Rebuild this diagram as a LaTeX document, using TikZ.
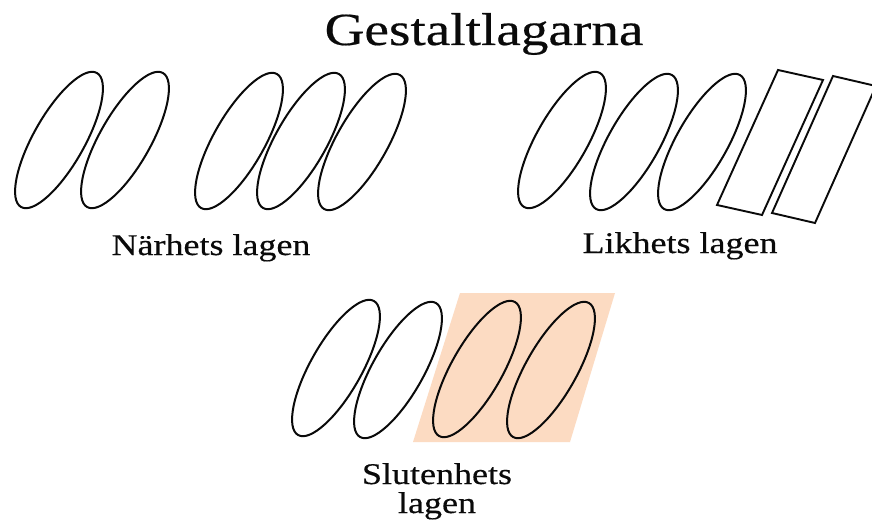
\documentclass[tikz,border=0pt]{standalone}
\usepackage{fontspec}
\setmainfont{Liberation Serif}[FakeStretch=1.2,FakeBold=0.4]
\usetikzlibrary{positioning}
\definecolor{Paper}{HTML}{FFFFFF}
\definecolor{Ink}{HTML}{0A0A0A}
\definecolor{Peach}{HTML}{FCDBC2}
\tikzset{oval/.style={draw=Ink, line width=2pt},
  slab/.style={draw=Ink, line width=1.9pt},
  lawname/.style={anchor=base, text=Ink, font=\fontsize{30}{30}\selectfont}}

\begin{document}
\begin{tikzpicture}[x=1pt,y=-1pt]
\fill[Paper] (0,0) rectangle (872,524);
\useasboundingbox (0,0) rectangle (872,524);
\node[anchor=base, text=Ink, font=\fontsize{46}{46}\selectfont] (title) at (484,45){Gestaltlagarna};
% closure: shaded part first
\coordinate (s1) at (460,293);\coordinate (s2) at (615,293);\coordinate (s3) at (570,442);\coordinate (s4) at (413,442);
\fill[Peach] (s1) -- (s2) -- (s3) -- (s4) -- cycle;
% ovals of the three groups
\foreach \cx/\cy in {59/140,125/140, 239/141,301/141,362/142, 562/140,634/142,702/142, 336/368,398/370,477/369,551/370}{
  \draw[oval, shift={(\cx,\cy)}, rotate=60.5] (0,0) ellipse [x radius=77pt, y radius=25.5pt];}
% similarity: the two slabs
\coordinate (r1) at (778,70);\coordinate (r2) at (823,80);\coordinate (r3) at (762,215);\coordinate (r4) at (717,205);
\draw[slab] (r1) -- (r2) -- (r3) -- (r4) -- cycle;
\coordinate (q1) at (833,76);\coordinate (q2) at (876,86);\coordinate (q3) at (815,223);\coordinate (q4) at (772,213);
\draw[slab] (q1) -- (q2) -- (q3) -- (q4) -- cycle;
\node[lawname] (near) at (211,255){Närhets lagen};
\node[lawname] (like) at (680,253){Likhets lagen};
\node[lawname] (closed) at (437,484){Slutenhets};
\node[lawname] (closedb) at (437,513){lagen};
\end{tikzpicture}
\end{document}
